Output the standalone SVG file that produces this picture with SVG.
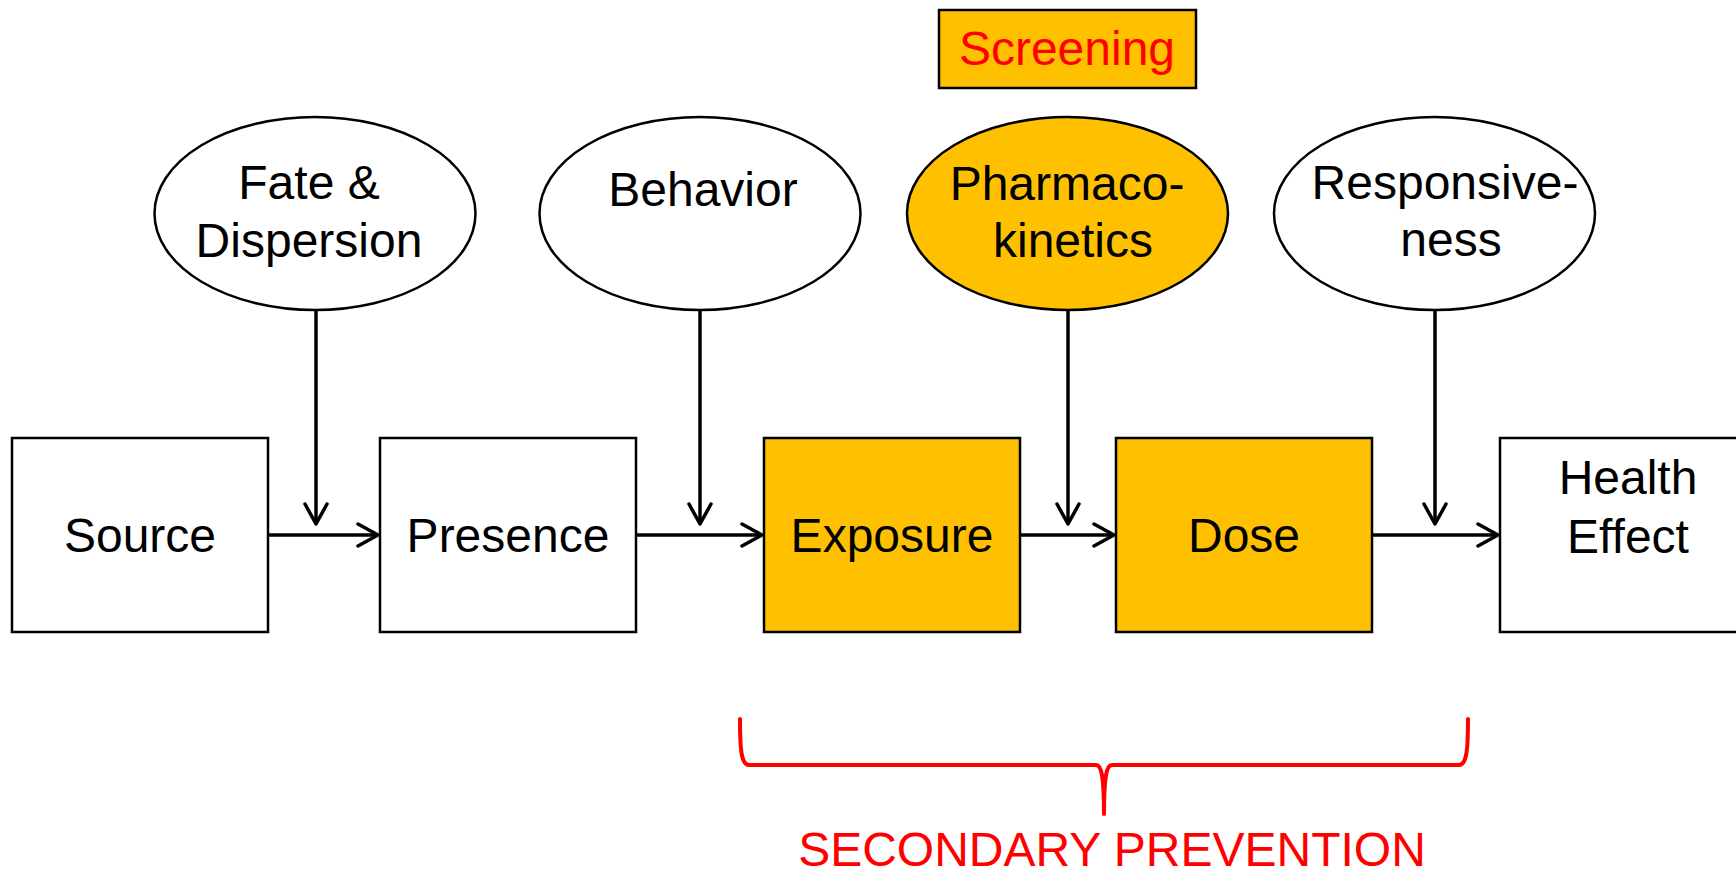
<svg xmlns="http://www.w3.org/2000/svg" width="1736" height="872" viewBox="0 0 1736 872">
  <defs>
    <style>
      .box { fill: #FFFFFF; stroke: #000000; stroke-width: 2.5; }
      .oval { fill: #FFFFFF; stroke: #000000; stroke-width: 2.5; }
      .hot { fill: #FFC000; }
      .lbl { font-family: "Liberation Sans", Arial, sans-serif; font-size: 48px; fill: #000000; text-anchor: middle; }
      .red { fill: #FF0000; }
      .link { stroke: #000000; stroke-width: 3.5; fill: none; }
      .brace { stroke: #FF0000; stroke-width: 4; fill: none; stroke-linecap: round; stroke-linejoin: round; }
    </style>
    <marker id="chevron" viewBox="0 0 26 26" refX="23" refY="13" markerWidth="26" markerHeight="26" markerUnits="userSpaceOnUse" orient="auto">
      <path d="M3,2 L23,13 L3,24" fill="none" stroke="#000000" stroke-width="3.5" stroke-linecap="round" stroke-linejoin="round"/>
    </marker>
  </defs>

  <rect width="1736" height="872" fill="#FFFFFF"/>

  <!-- Screening label -->
  <g id="screening">
    <rect class="box hot" x="939" y="10" width="257" height="78"/>
    <text class="lbl red" x="1067" y="65">Screening</text>
  </g>

  <!-- Modifying factors (ovals) -->
  <g id="fate-dispersion">
    <ellipse class="oval" cx="315" cy="213.5" rx="160.5" ry="96.5"/>
    <text class="lbl" x="309" y="199">Fate &amp;</text>
    <text class="lbl" x="309" y="257">Dispersion</text>
  </g>
  <g id="behavior">
    <ellipse class="oval" cx="700" cy="213.5" rx="160.5" ry="96.5"/>
    <text class="lbl" x="703" y="206">Behavior</text>
  </g>
  <g id="pharmacokinetics">
    <ellipse class="oval hot" cx="1067.5" cy="213.5" rx="160.5" ry="96.5"/>
    <text class="lbl" x="1067" y="200">Pharmaco-</text>
    <text class="lbl" x="1073" y="257">kinetics</text>
  </g>
  <g id="responsiveness">
    <ellipse class="oval" cx="1434.5" cy="213.5" rx="160.5" ry="96.5"/>
    <text class="lbl" x="1445" y="199">Responsive-</text>
    <text class="lbl" x="1451" y="256">ness</text>
  </g>

  <!-- Chain stages (boxes) -->
  <g id="source">
    <rect class="box" x="12" y="438" width="256" height="194"/>
    <text class="lbl" x="140" y="552">Source</text>
  </g>
  <g id="presence">
    <rect class="box" x="380" y="438" width="256" height="194"/>
    <text class="lbl" x="508" y="552">Presence</text>
  </g>
  <g id="exposure">
    <rect class="box hot" x="764" y="438" width="256" height="194"/>
    <text class="lbl" x="892" y="552">Exposure</text>
  </g>
  <g id="dose">
    <rect class="box hot" x="1116" y="438" width="256" height="194"/>
    <text class="lbl" x="1244" y="552">Dose</text>
  </g>
  <g id="health-effect">
    <rect class="box" x="1500" y="438" width="256" height="194"/>
    <text class="lbl" x="1628" y="494">Health</text>
    <text class="lbl" x="1628" y="553">Effect</text>
  </g>

  <!-- Connectors -->
  <g id="connectors">
    <line class="link" x1="268" y1="535" x2="378" y2="535" marker-end="url(#chevron)"/>
    <line class="link" x1="636" y1="535" x2="762" y2="535" marker-end="url(#chevron)"/>
    <line class="link" x1="1020" y1="535" x2="1114" y2="535" marker-end="url(#chevron)"/>
    <line class="link" x1="1372" y1="535" x2="1498" y2="535" marker-end="url(#chevron)"/>
    <line class="link" x1="316" y1="310" x2="316" y2="524" marker-end="url(#chevron)"/>
    <line class="link" x1="700" y1="310" x2="700" y2="524" marker-end="url(#chevron)"/>
    <line class="link" x1="1068" y1="310" x2="1068" y2="524" marker-end="url(#chevron)"/>
    <line class="link" x1="1435" y1="310" x2="1435" y2="524" marker-end="url(#chevron)"/>
  </g>

  <!-- Secondary prevention bracket -->
  <g id="secondary-prevention">
    <path class="brace" d="M740,719 C740,748 741,765 749,765 L1096,765 C1102,765 1104,778 1104,814 C1104,778 1106,765 1112,765 L1459,765 C1467,765 1468,748 1468,719"/>
    <text class="lbl red" x="1112" y="866" font-size="47">SECONDARY PREVENTION</text>
  </g>
</svg>
